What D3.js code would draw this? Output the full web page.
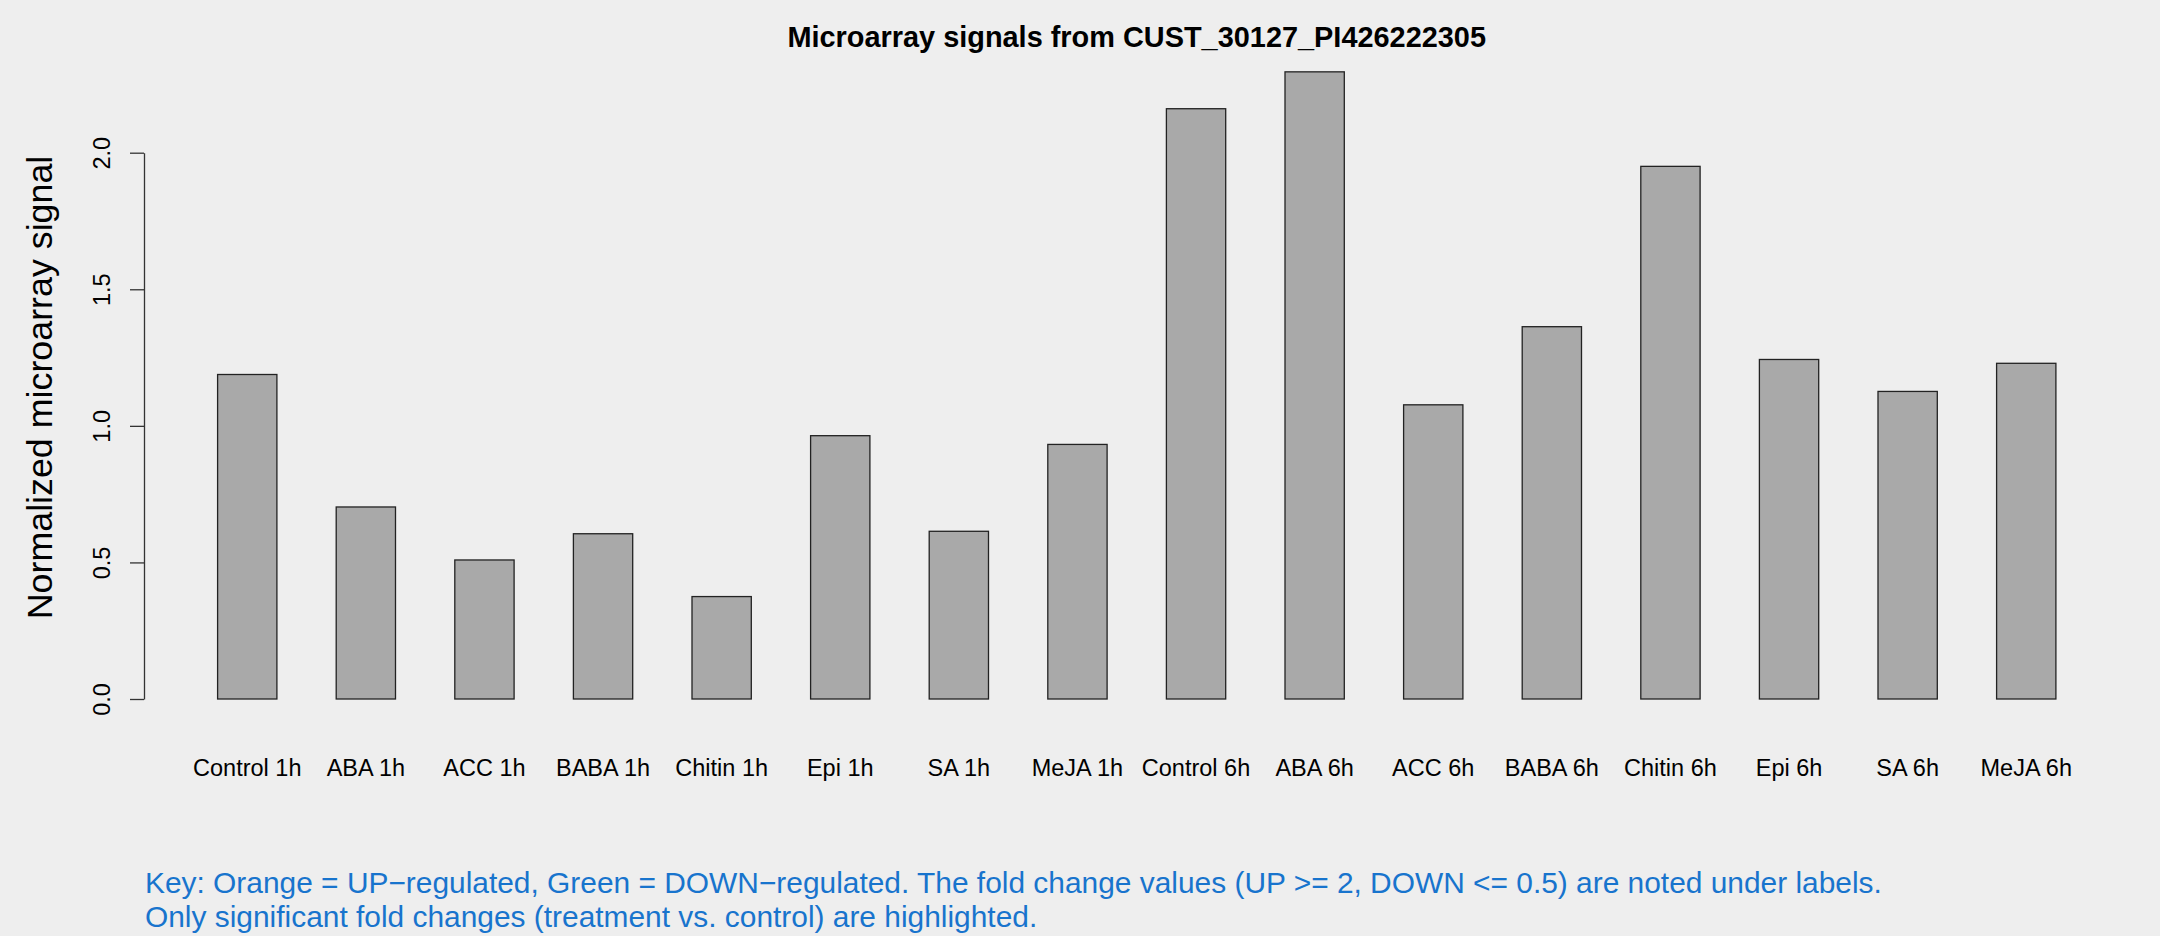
<!DOCTYPE html>
<html>
<head>
<meta charset="utf-8">
<script src="https://cdn.jsdelivr.net/npm/d3@7"></script>
<style>
  html, body { margin: 0; padding: 0; background: #EEEEEE; }
  svg { display: block; }
  text { font-family: "Liberation Sans", Arial, Helvetica, sans-serif; }
</style>
</head>
<body>
<script>
const categories = ["Control 1h", "ABA 1h", "ACC 1h", "BABA 1h", "Chitin 1h", "Epi 1h", "SA 1h", "MeJA 1h",
                    "Control 6h", "ABA 6h", "ACC 6h", "BABA 6h", "Chitin 6h", "Epi 6h", "SA 6h", "MeJA 6h"];
const values = [1.188, 0.703, 0.509, 0.605, 0.375, 0.964, 0.614, 0.932,
                2.161, 2.296, 1.077, 1.363, 1.950, 1.243, 1.126, 1.229];
const yTicks = [0, 0.5, 1.0, 1.5, 2.0];
const yTickLabels = ["0.0", "0.5", "1.0", "1.5", "2.0"];
const titleText = "Microarray signals from CUST_30127_PI426222305";
const yLabelText = "Normalized microarray signal";
const keyLines = [
  "Key: Orange = UP\u2212regulated, Green = DOWN\u2212regulated. The fold change values (UP >= 2, DOWN <= 0.5) are noted under labels.",
  "Only significant fold changes (treatment vs. control) are highlighted."
];

const W = 2160, H = 936;
const svg = d3.select("body").append("svg").attr("width", W).attr("height", H);
svg.append("rect").attr("width", W).attr("height", H).attr("fill", "#EEEEEE");

const axisX = 144;
const plotCenterX = 1136.7;

const x = d3.scaleBand().domain(categories).range([158.3, 2115.2]).paddingInner(0.5).paddingOuter(0.5);
const y = d3.scaleLinear().domain([0, 2]).range([699, 152.7]);

// bars
svg.append("g").selectAll("rect").data(values).join("rect")
  .attr("x", (d, i) => x(categories[i]))
  .attr("width", x.bandwidth())
  .attr("y", d => y(d))
  .attr("height", d => y(0) - y(d))
  .attr("fill", "#A9A9A9")
  .attr("stroke", "#222")
  .attr("stroke-width", 1.3);

// y axis
const yAxis = d3.axisLeft(y).tickValues(yTicks).tickFormat((d, i) => yTickLabels[i]).tickSize(14).tickSizeOuter(0);
const gy = svg.append("g").attr("transform", `translate(${axisX},0)`).call(yAxis);
gy.select(".domain").attr("stroke", "#333").attr("stroke-width", 1.3);
gy.selectAll(".tick line").attr("stroke", "#333").attr("stroke-width", 1.3);
gy.selectAll(".tick text")
  .attr("x", null).attr("dy", null)
  .attr("transform", "translate(-34,0) rotate(-90)")
  .attr("text-anchor", "middle")
  .attr("fill", "#000")
  .style("font-size", "23.5px")
  .style("font-family", "'Liberation Sans', Arial, sans-serif");

// x labels
svg.append("g").selectAll("text").data(categories).join("text")
  .attr("x", d => x(d) + x.bandwidth() / 2)
  .attr("y", 775.7)
  .attr("text-anchor", "middle")
  .attr("font-size", 23.5)
  .attr("fill", "#000")
  .text(d => d);

// title
svg.append("text")
  .attr("x", plotCenterX).attr("y", 46.7)
  .attr("text-anchor", "middle")
  .attr("font-size", 28.9)
  .attr("font-weight", "bold")
  .attr("fill", "#000")
  .text(titleText);

// y label
svg.append("text")
  .attr("transform", `translate(52,387.5) rotate(-90)`)
  .attr("text-anchor", "middle")
  .attr("font-size", 35.8)
  .attr("fill", "#000")
  .text(yLabelText);

// key
svg.append("g").selectAll("text").data(keyLines).join("text")
  .attr("x", 145)
  .attr("y", (d, i) => 893 + i * 34)
  .attr("font-size", 29.9)
  .attr("fill", "#1874CD")
  .text(d => d);
</script>
</body>
</html>
